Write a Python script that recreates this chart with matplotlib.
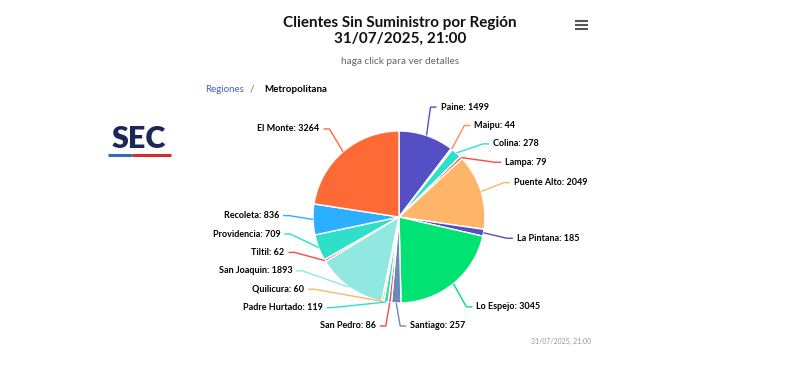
import numpy as np
import matplotlib.pyplot as plt

plt.rcParams['font.family'] = ['Lato', 'DejaVu Sans']

comunas = ['Paine', 'Maipu', 'Colina', 'Lampa', 'Puente Alto', 'La Pintana',
           'Lo Espejo', 'Santiago', 'San Pedro', 'Padre Hurtado', 'Quilicura',
           'San Joaquin', 'Tiltil', 'Providencia', 'Recoleta', 'El Monte']
clientes = [1499, 44, 278, 79, 2049, 185, 3045, 257, 86, 119, 60, 1893, 62, 709, 836, 3264]
colores = ['#544fc5', '#fe8a5e', '#2ee0ca', '#fa4b42', '#feb56a', '#544fc5',
           '#00e272', '#6b8abc', '#fa4b42', '#2ee0ca', '#feb56a', '#91e8e1',
           '#fa4b42', '#2ee0ca', '#2caffe', '#fe6a35']

titulo = 'Clientes Sin Suministro por Región\n31/07/2025, 21:00'
subtitulo = 'haga click para ver detalles'
fecha = '31/07/2025, 21:00'

W, H = 800, 376
cx, cy, r = 399, 217, 86     # pixels, y measured from the top
dist = 30                    # data label distance
top, bottom = 100, 326       # label limits

fig = plt.figure(figsize=(W / 100, H / 100), dpi=100)
ax = fig.add_axes([0, 0, 1, 1])

wedges, _ = ax.pie(clientes, colors=colores, startangle=90, counterclock=False,
                   radius=r, center=(cx, H - cy), frame=True,
                   wedgeprops=dict(edgecolor='white', linewidth=1))
ax.set_xlim(0, W)
ax.set_ylim(0, H)
ax.set_aspect('auto')
ax.axis('off')


def spread(ys, lo, hi, gap):
    ys = list(ys)
    for i in range(1, len(ys)):
        ys[i] = max(ys[i], ys[i - 1] + gap)
    if ys and ys[-1] > hi:
        ys[-1] = hi
    for i in range(len(ys) - 2, -1, -1):
        ys[i] = min(ys[i], ys[i + 1] - gap)
    return ys


# data labels (Highcharts-like placement)
R = r + dist
info = []
for w, name, val, col in zip(wedges, comunas, clientes, colores):
    mid = np.deg2rad((w.theta1 + w.theta2) / 2)     # ccw from +x axis
    ex, ey = cx + r * np.cos(mid), cy - r * np.sin(mid)
    nx, ny = cx + R * np.cos(mid), cy - R * np.sin(mid)
    right = np.cos(mid) > -0.05
    info.append(dict(name=name, val=val, col=col, ex=ex, ey=ey, nx=nx, ny=ny, right=right))

for side in (True, False):
    grp = sorted([d for d in info if d['right'] == side], key=lambda d: d['ny'])
    ys = spread([d['ny'] for d in grp], top, bottom, 18.4)
    for d, y in zip(grp, ys):
        if y >= bottom - 2:
            x = d['nx']
        else:
            dx = np.sqrt(max(R ** 2 - (y - cy) ** 2, 0))
            x = cx + dx if side else cx - dx
        s = 1 if side else -1
        if side:
            x = max(x, d['ex'] + 10)
        else:
            x = min(x, d['ex'] - 10)
        crook = x - s * 6
        ax.plot([d['ex'], crook, x], [H - d['ey'], H - y, H - y],
                color=d['col'], lw=1, solid_capstyle='butt')
        ax.text(x + s * 4, H - y, f"{d['name']}: {d['val']}",
                ha='left' if side else 'right', va='center',
                fontsize=6.5, fontweight='bold', color='#000000')

# titles
ax.text(400, H - 31, titulo, ha='center', va='center', fontsize=11,
        fontweight='bold', color='#111111', linespacing=1.15)
ax.text(400, H - 61, subtitulo, ha='center', va='center', fontsize=7.2, color='#666666')

# breadcrumbs
ax.text(205, H - 89, 'Regiones', ha='left', va='center', fontsize=7, color='#4a5fd0')
ax.text(252, H - 89, '/', ha='center', va='center', fontsize=7, color='#666666')
ax.text(264, H - 89, 'Metropolitana', ha='left', va='center', fontsize=7,
        fontweight='bold', color='#000000')

# menu icon
for yy in (21, 25, 29):
    ax.plot([575, 588], [H - yy, H - yy], color='#555555', lw=1.5, solid_capstyle='butt')

# SEC logo
ax.text(139, H - 139, 'SEC', ha='center', va='center', fontsize=22,
        fontweight='heavy', color='#1c2657')
ax.plot([108, 132], [H - 155, H - 155], color='#2f6db5', lw=2.2, solid_capstyle='butt')
ax.plot([132, 171], [H - 155, H - 155], color='#d92b2b', lw=2.2, solid_capstyle='butt')

# credits
ax.text(591, H - 341, fecha, ha='right', va='center', fontsize=5, color='#999999')

fig.savefig('out.png', dpi=100)
